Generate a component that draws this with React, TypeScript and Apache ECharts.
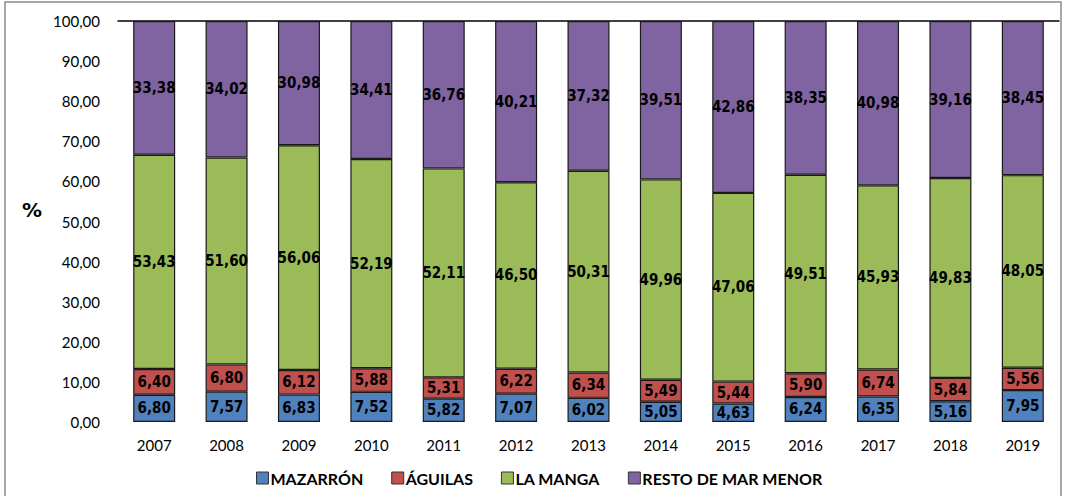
import React, { useEffect, useRef } from "react";
import * as echarts from "echarts";

const years = ["2007", "2008", "2009", "2010", "2011", "2012", "2013", "2014", "2015", "2016", "2017", "2018", "2019"];
const mazarron = [6.8, 7.57, 6.83, 7.52, 5.82, 7.07, 6.02, 5.05, 4.63, 6.24, 6.35, 5.16, 7.95];
const aguilas = [6.4, 6.8, 6.12, 5.88, 5.31, 6.22, 6.34, 5.49, 5.44, 5.9, 6.74, 5.84, 5.56];
const laManga = [53.43, 51.6, 56.06, 52.19, 52.11, 46.5, 50.31, 49.96, 47.06, 49.51, 45.93, 49.83, 48.05];
const resto = [33.38, 34.02, 30.98, 34.41, 36.76, 40.21, 37.32, 39.51, 42.86, 38.35, 40.98, 39.16, 38.45];

const seriesNames = ["MAZARRÓN", "ÁGUILAS", "LA MANGA", "RESTO DE MAR MENOR"];
const seriesData = [mazarron, aguilas, laManga, resto];
const colors = ["#4F81BD", "#C0504D", "#9BBB59", "#8064A2"];

const fmt = (v: number) => v.toFixed(2).replace(".", ",");

export default function App() {
  const ref = useRef<HTMLDivElement>(null);
  useEffect(() => {
    if (!ref.current) return;
    const chart = echarts.init(ref.current, null, { renderer: "svg" });
    chart.setOption({
      animation: false,
      backgroundColor: "#ffffff",
      graphic: [
        {
          type: "rect",
          shape: { x: 5, y: 2, width: 1056, height: 500 },
          style: { fill: "none", stroke: "#8c8c8c", lineWidth: 1.5 },
          silent: true,
        },
        {
          type: "text",
          left: 22,
          top: 200,
          style: { text: "%", font: "bold 20px 'DejaVu Sans', sans-serif", fill: "#000" },
        },
      ],
      grid: { left: 118, right: 7, top: 21, bottom: 74 },
      legend: {
        bottom: 5,
        left: 251,
        itemWidth: 12,
        itemHeight: 12,
        itemGap: 28,
        icon: "rect",
        itemStyle: { borderColor: "#333", borderWidth: 1 },
        textStyle: { fontFamily: "Lato", fontWeight: "bold", fontSize: 16, color: "#000", padding: [0, 0, 0, -3] },
        data: seriesNames,
      },
      xAxis: [
        {
          type: "category",
          data: years,
          axisLine: { show: false },
          axisTick: { show: false },
          axisLabel: { fontFamily: "Lato", fontSize: 15, color: "#000", margin: 15 },
        },
        {
          type: "category",
          data: years,
          position: "top",
          axisLine: { show: true, lineStyle: { color: "#000", width: 1.5 } },
          axisTick: { show: false },
          axisLabel: { show: false },
        },
      ],
      yAxis: {
        type: "value",
        min: 0,
        max: 100,
        interval: 10,
        axisLine: { show: false },
        axisTick: { show: false },
        splitLine: { show: false },
        axisLabel: {
          fontFamily: "Lato",
          fontSize: 15,
          color: "#000",
          margin: 18,
          formatter: (v: number) => fmt(v),
        },
      },
      series: seriesNames.map((name, i) => ({
        name,
        type: "bar",
        stack: "total",
        barWidth: 42,
        data: seriesData[i],
        itemStyle: {
          color: colors[i],
          borderColor: "#1a1a1a",
          borderWidth: 1.2,
        },
        label: {
          show: true,
          position: "inside",
          formatter: (p: any) => fmt(p.value),
          fontFamily: "'DejaVu Sans Condensed', 'DejaVu Sans', sans-serif",
          fontWeight: "bold",
          fontSize: 15,
          color: "#000",
        },
      })),
    });
    return () => chart.dispose();
  }, []);
  return (
    <div
      ref={ref}
      style={{ position: "fixed", left: 0, top: 0, width: 1066, height: 496 }}
    />
  );
}
